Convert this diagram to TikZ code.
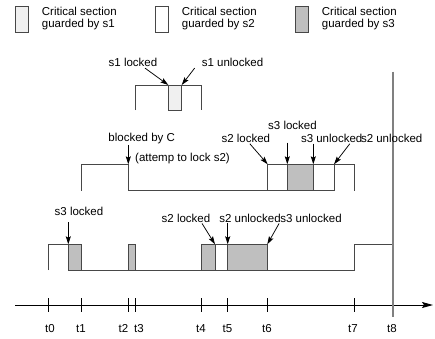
\documentclass[tikz,border=0pt]{standalone}
\usepackage{fontspec}
\setmainfont{Liberation Sans}
\usetikzlibrary{positioning,arrows.meta}
\tikzset{
  >={Stealth[length=8pt, width=5pt, inset=1.5pt]},
  every node/.style={font=\fontsize{11.5}{11.6}\selectfont, inner sep=1pt},
  track/.style={draw=black!72, line width=.8pt},
  sone/.style={track, fill=black!6},
  stwo/.style={track, fill=white},
  sthree/.style={track, fill=black!25},
  legbox/.style={inner sep=0pt, minimum width=13.3pt, minimum height=25.6pt},
  pin/.style={->, draw=black, line width=.75pt},
  tick/.style={draw=black, line width=.8pt}
  }

\begin{document}
\begin{tikzpicture}[x=1pt, y=-1pt]
    \useasboundingbox (0,0) rectangle (435,338);

    % legend
    \node [legbox, sone] (leg1) at (21.7,19.5) {};
    \node [legbox, stwo] (leg2) at (161.7,19.5) {};
    \node [legbox, sthree] (leg3) at (301.7,19.5) {};
    \node [anchor=west, align=left] (legtext1) at (40.7,18.5) {Critical section\\guarded by s1};
    \node [anchor=west, align=left] (legtext2) at (180.7,18.5) {Critical section\\guarded by s2};
    \node [anchor=west, align=left] (legtext3) at (320.7,18.5) {Critical section\\guarded by s3};

    % time axis
    \coordinate (axstart) at (15,305);
    \coordinate (axend) at (433,305);
    \draw [-{Stealth[length=11pt, width=6pt, inset=2pt]}, line width=1pt] (axstart) -- (axend);
    \foreach \n/\x/\lx in {0/48.3/50,1/81.7/81,2/128.3/123.5,3/135/139,4/201/201,
                          5/227.7/227.5,6/267.3/267,7/354/353,8/393.3/392} {
      \coordinate (t\n) at (\x,305);
      \draw [tick] (\x,298) -- (\x,312);
      \node (lab\n) at (\lx,329) {t\n};
    }

    % top task: s1
    \draw [track] (135,110) -- (135,85) -- (201,85) -- (201,110);
    \draw [sone] (168.3,85) rectangle (181.7,110);

    % middle task: s2, s3
    \draw [track] (81.7,190.7) -- (81.7,164.3) -- (128.3,164.3) -- (128.3,190.7) -- (267.7,190.7);
    \draw [stwo] (267.7,164.3) rectangle (287.3,190.7);
    \draw [sthree] (287.3,164.3) rectangle (313.3,190.7);
    \draw [stwo] (313.3,164.3) rectangle (334,190.7);
    \draw [track] (334,164.3) -- (354,164.3) -- (354,190.7);

    % bottom task: s3, s2
    \draw [track] (48.3,270) -- (48.3,244.3) -- (68.3,244.3) -- (68.3,270.7) -- (354,270.7)
                  -- (354,244.3) -- (393.3,244.3);
    \draw [sthree] (68.3,244.3) rectangle (81.7,270.7);
    \draw [sthree] (128.3,244.3) rectangle (135,270.7);
    \draw [sthree] (201,244.3) rectangle (215,270.7);
    \draw [stwo] (215,244.3) rectangle (227.7,270.7);
    \draw [sthree] (227.7,244.3) rectangle (267.3,270.7);

    \draw [draw=black!50, line width=1.8pt] (393.3,71.7) -- (393.3,317);

    % labels and pointers, top
    \coordinate (s1in) at (168.3,85);
    \coordinate (s1out) at (181.7,85);
    \node (s1lock) at (133,62.7) {s1 locked};
    \node (s1unlock) at (232.5,62.7) {s1 unlocked};
    \draw [pin] ([xshift=12pt]s1lock.south) -- (s1in);
    \draw [pin] ([xshift=-6pt]s1unlock.south west) -- (s1out);

    % labels and pointers, middle
    \coordinate (blk) at (128.3,164.3);
    \coordinate (s2inB) at (267.7,164.3);
    \coordinate (s3inB) at (287.3,164.3);
    \coordinate (s3outB) at (313.3,164.3);
    \coordinate (s2outB) at (334,164.3);
    \node (blocked) at (141.7,138.3) {blocked by C};
    \node (attempt) at (182.5,158.3) {(attemp to lock s2)};
    \node (s2lockB) at (245.8,138.3) {s2 locked};
    \node (s3lockB) at (292.5,125.3) {s3 locked};
    \node (s3unlockB) at (331.7,138.3) {s3 unlocked};
    \node (s2unlockB) at (391.7,138.3) {s2 unlocked};
    \draw [pin] (blocked.south -| blk) -- (blk);
    \draw [pin] ([xshift=4pt]s2lockB.south) -- (s2inB);
    \draw [pin] (s3lockB.south -| s3inB) ++(0,12) -- (s3inB);
    \draw [pin] (s3unlockB.south -| s3outB) -- (s3outB);
    \draw [pin] ([xshift=-10pt]s2unlockB.south west) -- (s2outB);

    % labels and pointers, bottom
    \coordinate (s3inC) at (68.3,244.3);
    \coordinate (s2inC) at (215,244.3);
    \coordinate (s2outC) at (227.7,244.3);
    \coordinate (s3outC) at (267.3,244.3);
    \node (s3lockC) at (79,211) {s3 locked};
    \node (s2lockC) at (186,218) {s2 locked};
    \node (s2unlockC) at (250,218) {s2 unlocked};
    \node (s3unlockC) at (311,218) {s3 unlocked};
    \draw [pin] (s3lockC.south -| s3inC) ++(0,6) -- (s3inC);
    \draw [pin] ([xshift=16pt]s2lockC.south) -- (s2inC);
    \draw [pin] (s2unlockC.south -| s2outC) -- (s2outC);
    \draw [pin] (s3unlockC.south west) -- (s3outC);

 \end{tikzpicture}
\end{document}
